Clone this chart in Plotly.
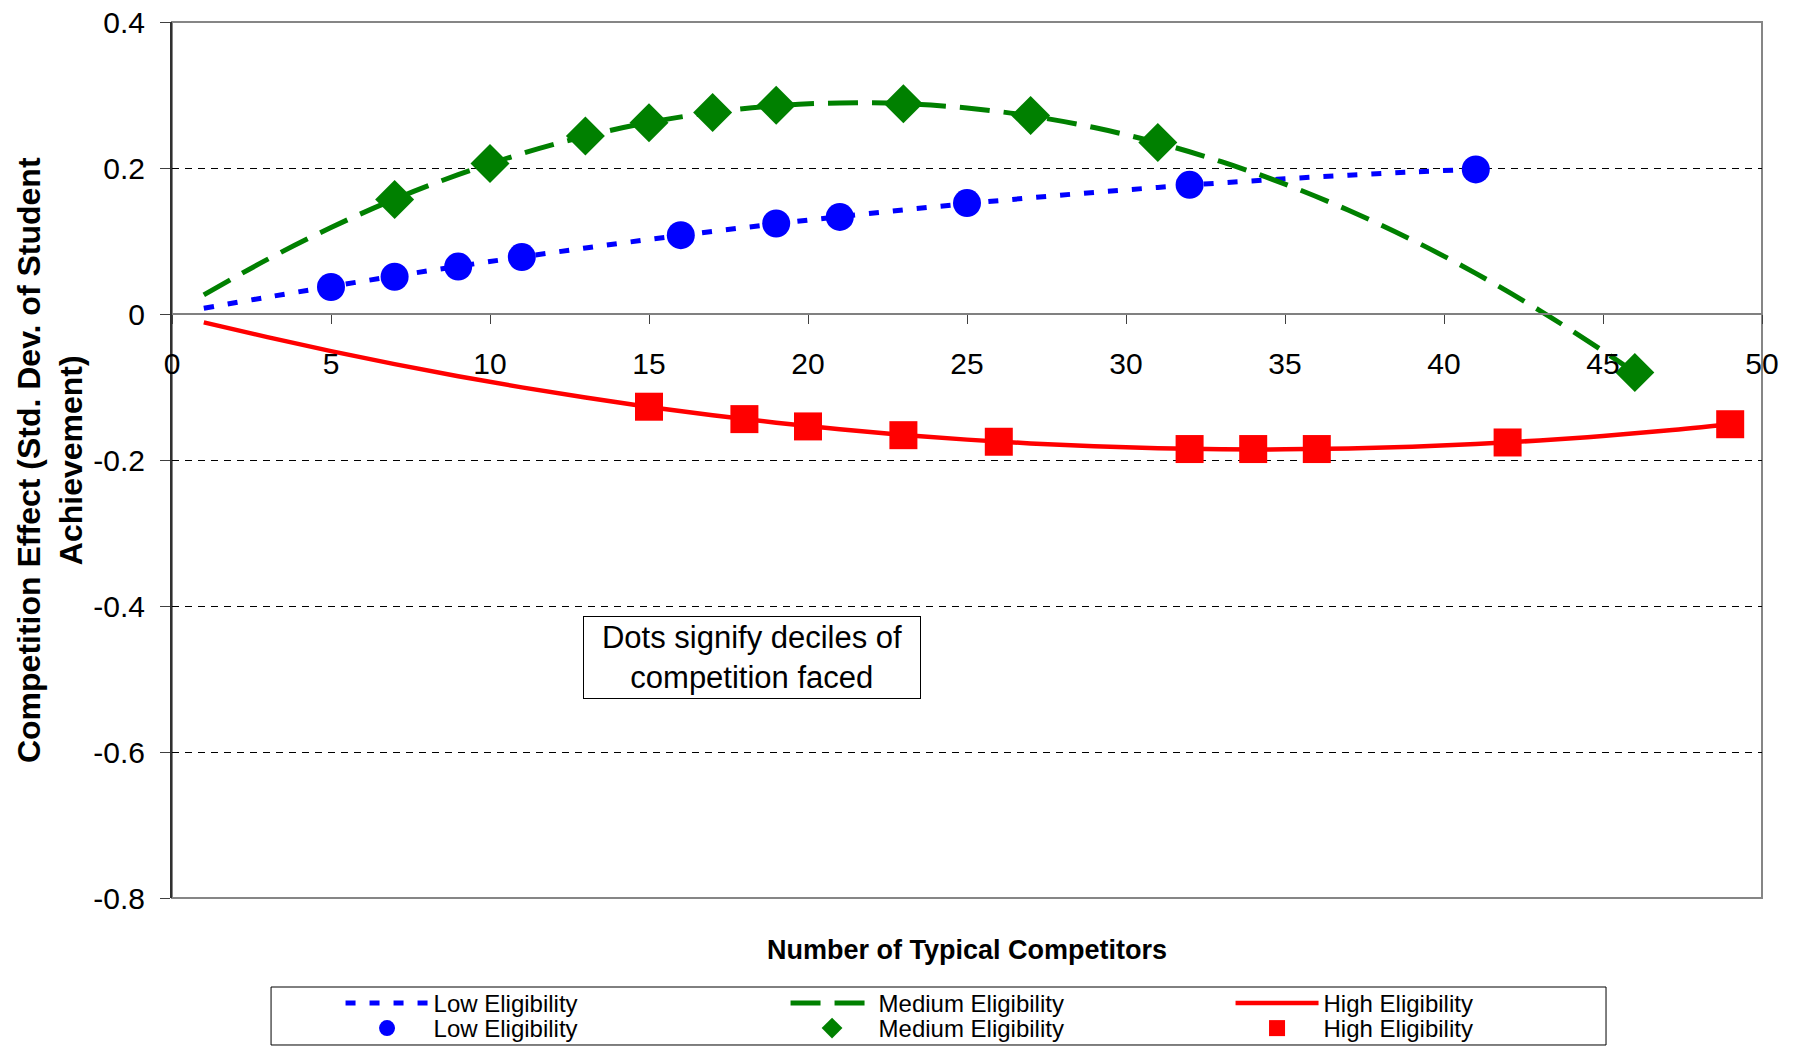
import plotly.graph_objects as go

# Fitted competition-effect curves, sampled every two competitors
low_curve_x = [1, 3, 5, 7, 9, 11, 13, 15, 17, 19, 21, 23, 25, 27, 29, 31, 33, 35, 37, 39, 41]
low_curve_y = [0.0079, 0.0231, 0.0378, 0.0519, 0.0654, 0.0782, 0.0904, 0.1021, 0.1131, 0.1236,
               0.1334, 0.1426, 0.1512, 0.1592, 0.1666, 0.1734, 0.1796, 0.1852, 0.1902, 0.1946, 0.1982]

med_curve_x = [1, 3, 5, 7, 9, 11, 13, 15, 17, 19, 21, 23, 25, 27, 29, 31, 33, 35, 37, 39, 41, 43, 45, 46]
med_curve_y = [0.0262, 0.0748, 0.1185, 0.1572, 0.1909, 0.2197, 0.2435, 0.2624, 0.2763, 0.2853,
               0.2892, 0.2882, 0.2822, 0.2713, 0.2554, 0.2345, 0.2087, 0.1779, 0.1421, 0.1014,
               0.0557, 0.0050, -0.0506, -0.0803]

high_curve_x = [1, 3, 5, 7, 9, 11, 13, 15, 17, 19, 21, 23, 25, 27, 29, 31, 33, 35, 37, 39, 41, 43, 45, 47, 49]
high_curve_y = [-0.0114, -0.0317, -0.0508, -0.0686, -0.0852, -0.1005, -0.1145, -0.1273, -0.1388,
                -0.1490, -0.1580, -0.1657, -0.1721, -0.1773, -0.1813, -0.1839, -0.1853, -0.1854,
                -0.1843, -0.1819, -0.1782, -0.1733, -0.1672, -0.1597, -0.1510]

# Deciles of competition faced
low_dec_x = [5, 7, 9, 11, 16, 19, 21, 25, 32, 41]
low_dec_y = [0.037, 0.051, 0.065, 0.078, 0.108, 0.124, 0.133, 0.152, 0.177, 0.198]
med_dec_x = [7, 10, 13, 15, 17, 19, 23, 27, 31, 46]
med_dec_y = [0.157, 0.206, 0.244, 0.262, 0.276, 0.286, 0.288, 0.272, 0.235, -0.080]
high_dec_x = [15, 18, 20, 23, 26, 32, 34, 36, 42, 49]
high_dec_y = [-0.127, -0.144, -0.154, -0.166, -0.175, -0.185, -0.185, -0.185, -0.176, -0.151]

x_ticks = [0, 5, 10, 15, 20, 25, 30, 35, 40, 45, 50]
y_ticks = [0.4, 0.2, 0, -0.2, -0.4, -0.6, -0.8]
y_tick_text = ["0.4", "0.2", "0", "-0.2", "-0.4", "-0.6", "-0.8"]

BLUE = "#0000FF"
GREEN = "#008000"
RED = "#FF0000"
FONT = "Liberation Sans, Arial, sans-serif"

fig = go.Figure()

# Curves go in the first legend row, decile markers in the second
fig.add_trace(go.Scatter(x=low_curve_x, y=low_curve_y, mode="lines", name="Low Eligibility",
                         legend="legend",
                         line=dict(color=BLUE, width=5, dash="10px,14px", shape="spline")))
fig.add_trace(go.Scatter(x=med_curve_x, y=med_curve_y, mode="lines", name="Medium Eligibility",
                         legend="legend",
                         line=dict(color=GREEN, width=5, dash="30px,14px", shape="spline")))
fig.add_trace(go.Scatter(x=high_curve_x, y=high_curve_y, mode="lines", name="High Eligibility",
                         legend="legend",
                         line=dict(color=RED, width=4.5, shape="spline")))

fig.add_trace(go.Scatter(x=low_dec_x, y=low_dec_y, mode="markers", name="Low Eligibility",
                         legend="legend2",
                         marker=dict(color=BLUE, size=28, symbol="circle")))
fig.add_trace(go.Scatter(x=med_dec_x, y=med_dec_y, mode="markers", name="Medium Eligibility",
                         legend="legend2",
                         marker=dict(color=GREEN, size=30, symbol="diamond")))
fig.add_trace(go.Scatter(x=high_dec_x, y=high_dec_y, mode="markers", name="High Eligibility",
                         legend="legend2",
                         marker=dict(color=RED, size=28, symbol="square")))

legend_common = dict(
    orientation="h", x=0.106, xanchor="left", yanchor="top",
    entrywidth=347, itemwidth=83, font=dict(size=24),
    bgcolor="rgba(0,0,0,0)", borderwidth=0, traceorder="normal",
)

fig.update_layout(
    width=1799, height=1052,
    margin=dict(l=172, r=37, t=22, b=154, autoexpand=False),
    paper_bgcolor="white", plot_bgcolor="white",
    font=dict(family=FONT, size=28, color="black"),
    showlegend=True,
    xaxis=dict(
        range=[0, 50], tickvals=x_ticks, anchor="free", position=2 / 3,
        showline=True, linecolor="#808080", linewidth=2,
        ticks="outside", ticklen=9, tickwidth=1, tickcolor="#404040",
        ticklabelstandoff=14, tickfont=dict(size=30),
        showgrid=False, zeroline=False,
    ),
    yaxis=dict(
        range=[-0.8, 0.4], tickvals=y_ticks, ticktext=y_tick_text,
        showline=True, linecolor="#303030", linewidth=2,
        ticks="outside", ticklen=10, tickwidth=1, tickcolor="#404040",
        ticklabelstandoff=9, tickfont=dict(size=30),
        showgrid=True, gridcolor="black", gridwidth=1, griddash="7px,6px",
        zeroline=False,
    ),
    legend=dict(legend_common, y=-0.0947),
    legend2=dict(legend_common, y=-0.1233),
    shapes=[
        # plot-area frame
        dict(type="rect", xref="paper", yref="paper", x0=0, x1=1, y0=0, y1=1,
             line=dict(color="#868686", width=2), layer="between"),
        # legend frame
        dict(type="rect", xref="paper", yref="paper", x0=0.0623, x1=0.9019, y0=-0.1678, y1=-0.1016,
             line=dict(color="black", width=1)),
    ],
    annotations=[
        dict(text="Dots signify deciles of<br>competition faced", x=18.24, y=-0.4705,
             xref="x", yref="y", showarrow=False, width=336, height=81, borderpad=0,
             bordercolor="black", borderwidth=1, bgcolor="white", font=dict(size=31), align="center"),
        dict(text="<b>Number of Typical Competitors</b>", x=0.5, y=-0.0594, xref="paper", yref="paper",
             showarrow=False, font=dict(size=27), xanchor="center", yanchor="middle"),
        dict(text="<b>Competition Effect (Std. Dev. of Student<br>Achievement)</b>", x=-0.0767, y=0.5,
             xref="paper", yref="paper", showarrow=False, textangle=-90, font=dict(size=32),
             xanchor="center", yanchor="middle"),
    ],
)

fig.write_html("out.html")
